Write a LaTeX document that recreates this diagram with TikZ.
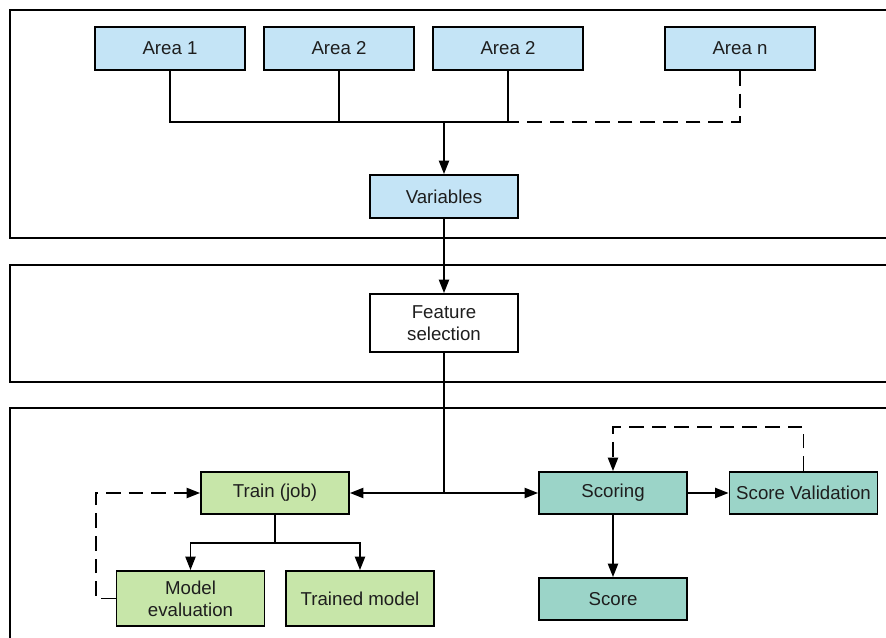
\documentclass[tikz,border=0pt]{standalone}
\usepackage{fontspec}
\setmainfont{Liberation Sans}
\usetikzlibrary{arrows.meta}
\definecolor{areablue}{RGB}{196,228,246}
\definecolor{traingreen}{RGB}{199,230,169}
\definecolor{scoreteal}{RGB}{155,212,200}
\definecolor{txt}{RGB}{30,30,30}
\tikzset{
  box/.style={draw=black, line width=1.4pt, inner sep=0pt, align=center,
    minimum width=111pt, minimum height=31.5pt, text=txt,
    font=\fontsize{14}{16.5}\selectfont},
  bluebox/.style={box, fill=areablue},
  greenbox/.style={box, fill=traingreen},
  tealbox/.style={box, fill=scoreteal},
  panel/.style={draw=black, line width=1.4pt},
  conn/.style={draw=black, line width=1.4pt},
  arr/.style={conn, -{Triangle[length=10pt,width=7.5pt]}},
  dsh/.style={dash pattern=on 11pt off 6pt}
}
\begin{document}
\begin{tikzpicture}[x=0.75pt,y=-0.75pt]
\clip (0,0) rectangle (886,637);
\fill[white] (0,0) rectangle (886,637);
% panels
\draw[panel] (10,10) rectangle (900,238);
\draw[panel] (10,265) rectangle (900,382);
\draw[panel] (10,408) rectangle (900,660);
% top row
\node[bluebox, minimum width=112pt, minimum height=32.25pt] (a1) at (170,48.5) {Area 1};
\node[bluebox, minimum width=112pt, minimum height=32.25pt] (a2) at (339,48.5) {Area 2};
\node[bluebox, minimum width=112pt, minimum height=32.25pt] (a3) at (508,48.5) {Area 2};
\node[bluebox, minimum width=112pt, minimum height=32.25pt] (an) at (740,48.5) {Area n};
\node[bluebox, minimum height=32.25pt] (var) at (444,196.5) {Variables};
\coordinate (bus) at (444,122);
% feature
\node[box, fill=white, minimum height=43.5pt] (feat) at (444,323) {Feature\\selection};
% bottom
\node[greenbox] (train) at (275,493) {Train (job)};
\node[greenbox, minimum height=41.25pt] (me) at (190.5,598.5) {Model\\evaluation};
\node[greenbox, minimum height=41.25pt] (tm) at (360,598.5) {Trained model};
\node[tealbox] (scoring) at (613,493) {Scoring};
\node[tealbox] (sv) at (803.5,493) {Score Validation};
\node[tealbox] (score) at (613,599) {Score};
\coordinate (j) at (feat.south |- train.east);
% connectors top
\draw[conn] (a1.south) -- (a1.south |- bus) -- (a3.south |- bus);
\draw[conn] (a2.south) -- (a2.south |- bus);
\draw[conn] (a3.south) -- (a3.south |- bus);
\draw[conn, dsh] (an.south) |- (a3.south |- bus);
\draw[arr] (bus) -- (var.north);
\draw[arr] (var.south) -- (feat.north);
% to bottom
\draw[conn] (feat.south) -- (j);
\draw[arr] (j) -- (train.east);
\draw[arr] (j) -- (scoring.west);
\draw[conn] (train.south) -- ++(0,28) coordinate (tb);
\draw[arr] (tb) -| (me.north);
\draw[arr] (tb) -| (tm.north);
\draw[arr, dsh] (me.west) -- ++(-20,0) |- (train.west);
\draw[arr] (scoring.east) -- (sv.west);
\draw[arr] (scoring.south) -- (score.north);
\draw[arr, dsh] (sv.north) -- ++(0,-44) -| (scoring.north);
\end{tikzpicture}
\end{document}
